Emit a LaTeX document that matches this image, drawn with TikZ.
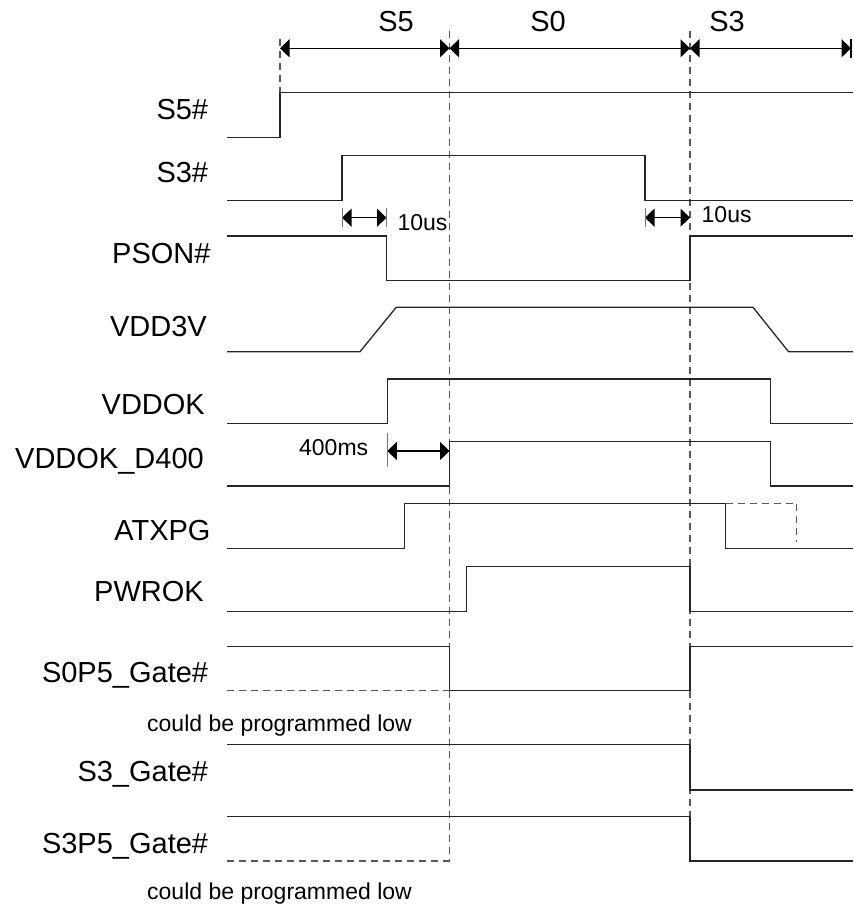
\documentclass[tikz,border=0pt]{standalone}
\usepackage{fontspec}
\setmainfont{Liberation Sans}
\usetikzlibrary{arrows.meta}
\begin{document}
\begin{tikzpicture}[x=1pt,y=-1pt,
  wave/.style={line width=1.3pt, draw=black!85, line join=miter},
  guide/.style={line width=1.2pt, draw=black!65, dash pattern=on 7pt off 5pt},
  guidewave/.style={line width=1.3pt, draw=black!65, dash pattern=on 7pt off 5pt},
  dimarrow/.style={line width=1.2pt, draw=black, {Triangle[length=9.5pt,width=18pt]}-{Triangle[length=9.5pt,width=18pt]}},
  tickbar/.style={line width=0.9pt, draw=black!55},
  endbar/.style={line width=2.2pt, draw=black},
  siglabel/.style={anchor=base east, inner sep=0pt, font=\fontsize{29}{34}\selectfont},
  phaselabel/.style={anchor=base, inner sep=0pt, font=\fontsize{29}{34}\selectfont},
  note/.style={inner sep=0pt, font=\fontsize{23}{28}\selectfont}]
\useasboundingbox (0,0) rectangle (853,909);

% guide lines
\draw[guide] (280,39) -- (280,92.7);
\draw[guide] (449.5,30.7) -- (449.5,861);
\draw[guide] (690,30.7) -- (690,861);

% phase dimension arrows
\draw[dimarrow] (280,48.3) -- (449.5,48.3);
\draw[dimarrow] (449.5,48.3) -- (690,48.3);
\draw[dimarrow] (690,48.3) -- (851,48.3);
\draw[endbar] (851,39) -- (851,57.6);
\node[phaselabel] (pS5) at (396,31.7) {S5};
\node[phaselabel] (pS0) at (548,31.7) {S0};
\node[phaselabel] (pS3) at (727,31.7) {S3};

% signal labels
\node[siglabel] (lS5)   at (208.3,120)   {S5\#};
\node[siglabel] (lS3)   at (208.3,182.7) {S3\#};
\node[siglabel] (lPS)   at (210.7,263.3) {PSON\#};
\node[siglabel] (lVDD)  at (207,336)     {VDD3V};
\node[siglabel] (lOK)   at (205,414.3)   {VDDOK};
\node[siglabel] (lD400) at (204,468.3)   {VDDOK\_D400};
\node[siglabel] (lATX)  at (210.7,540.7) {ATXPG};
\node[siglabel] (lPWR)  at (204,601.7)   {PWROK};
\node[siglabel] (lS0G)  at (208.3,682.7) {S0P5\_Gate\#};
\node[siglabel] (lS3G)  at (208.3,781)   {S3\_Gate\#};
\node[siglabel] (lS3P)  at (208.3,853.3) {S3P5\_Gate\#};

% waveforms
\draw[wave] (227,137.7) -- (280,137.7) -- (280,92.7) -- (853,92.7);
\draw[wave] (227,200.3) -- (342,200.3) -- (342,155.3) -- (645,155.3) -- (645,200.3) -- (853,200.3);
\draw[wave] (227,236) -- (386.5,236) -- (386.5,280.5) -- (690,280.5) -- (690,236) -- (853,236);
\draw[wave] (227,351.7) -- (360,351.7) -- (396.2,307.3) -- (753,307.3) -- (788.5,351.7) -- (853,351.7);
\draw[wave] (227,423.3) -- (387.3,423.3) -- (387.3,379) -- (770.4,379) -- (770.4,423.3) -- (853,423.3);
\draw[wave] (227,486) -- (449.5,486) -- (449.5,441.7) -- (770.4,441.7) -- (770.4,486) -- (853,486);
\draw[wave] (227,548.3) -- (404.7,548.3) -- (404.7,503.3) -- (725.6,503.3) -- (725.6,548.3) -- (853,548.3);
\draw[guidewave] (725.6,503.3) -- (796.8,503.3) -- (796.8,541.7);
\draw[wave] (227,611.7) -- (466.8,611.7) -- (466.8,566.7) -- (690,566.7) -- (690,611.7) -- (853,611.7);
\draw[wave] (227,646.7) -- (449.5,646.7) -- (449.5,690.7) -- (690,690.7) -- (690,646.7) -- (853,646.7);
\draw[guidewave] (227,690.7) -- (449.5,690.7);
\draw[wave] (227,744.7) -- (690,744.7) -- (690,790) -- (853,790);
\draw[wave] (227,816.3) -- (690,816.3) -- (690,861) -- (853,861);
\draw[guidewave] (227,861) -- (449.5,861);

% 10us timing
\draw[dimarrow] (342,217.7) -- (386.5,217.7);
\draw[tickbar] (342,208) -- (342,227.5);
\draw[tickbar] (386.5,208) -- (386.5,227.5);
\node[note, anchor=base west] (t10a) at (397.4,230.5) {10us};
\draw[dimarrow] (645,217.7) -- (690,217.7);
\draw[tickbar] (645,208) -- (645,227.5);
\node[note, anchor=base west] (t10b) at (701.5,222.5) {10us};

% 400ms timing
\draw[dimarrow] (387.3,451) -- (449.5,451);
\draw[tickbar] (387.3,433) -- (387.3,467);
\node[note, anchor=base east] (t400) at (368.4,455) {400ms};

% notes
\node[note, anchor=base west] (cb1) at (147,731.5) {could be programmed low};
\node[note, anchor=base west] (cb2) at (147,899) {could be programmed low};
\end{tikzpicture}
\end{document}
